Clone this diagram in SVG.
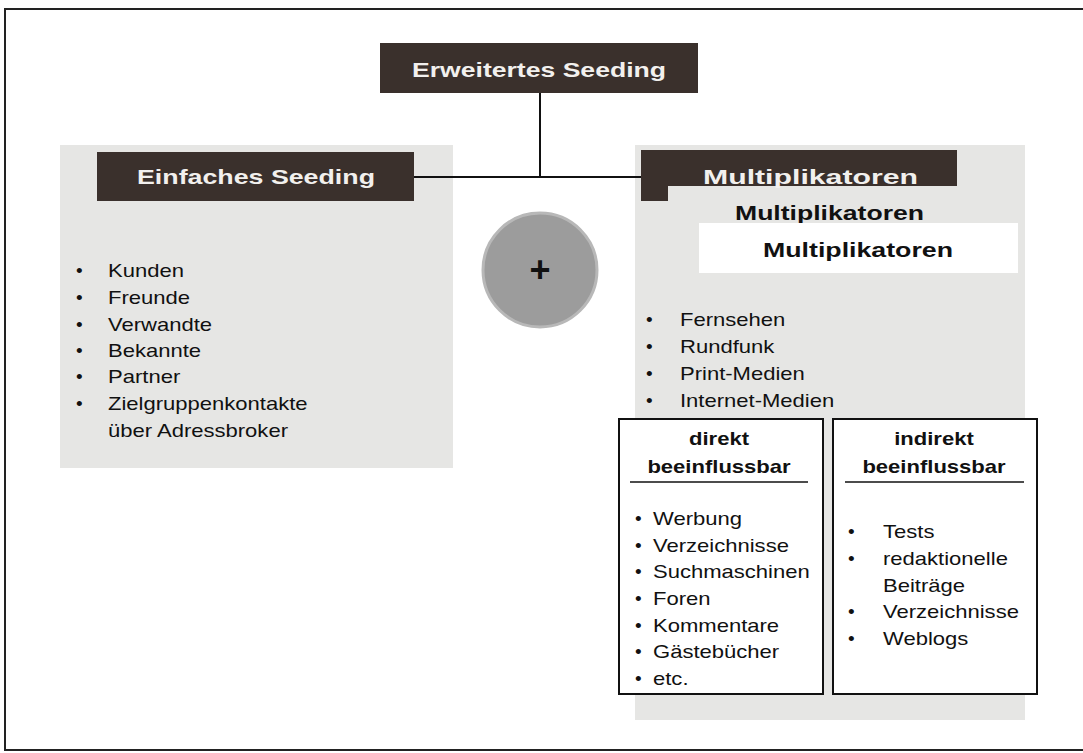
<svg xmlns="http://www.w3.org/2000/svg" width="1083" height="753" viewBox="0 0 1083 753">
<style>
.hd{font-family:"Liberation Sans",Arial,sans-serif;font-weight:bold;font-size:21px;fill:#f2f0ee}
.bk{font-family:"Liberation Sans",Arial,sans-serif;font-weight:bold;font-size:21px;fill:#111}
.tx{font-family:"Liberation Sans",Arial,sans-serif;font-size:19px;fill:#111}
.tb{font-family:"Liberation Sans",Arial,sans-serif;font-size:19px;font-weight:bold;fill:#111}
.dark{fill:#3a302c}
.panel{fill:#e6e6e4}
.box{fill:#fff;stroke:#111;stroke-width:2}
.conn{stroke:#111;stroke-width:2;fill:none}
</style>
<rect width="1083" height="753" fill="#fff"/>
<rect x="5" y="9" width="1090" height="741" fill="none" stroke="#222" stroke-width="2"/>

<g id="panels">
<rect class="panel" x="60" y="145" width="393" height="323"/>
<rect class="panel" x="635" y="145" width="390" height="575"/>
</g>

<g id="connectors">
<line class="conn" x1="540" y1="93" x2="540" y2="177"/>
<line class="conn" x1="413" y1="177" x2="642" y2="177"/>
</g>

<g id="node-erweitert">
<rect class="dark" x="380" y="43" width="318" height="50"/>
<text class="hd" x="412" y="77" textLength="254" lengthAdjust="spacingAndGlyphs">Erweitertes Seeding</text>
</g>

<g id="node-einfach">
<rect class="dark" x="97" y="152" width="317" height="49"/>
<text class="hd" x="137" y="184" textLength="238" lengthAdjust="spacingAndGlyphs">Einfaches Seeding</text>
<g transform="translate(0,0)">
<text class="tx" x="76" y="277">•</text>
<text class="tx" x="76" y="304">•</text>
<text class="tx" x="76" y="331">•</text>
<text class="tx" x="76" y="357">•</text>
<text class="tx" x="76" y="383">•</text>
<text class="tx" x="76" y="410">•</text>
</g>
<g transform="translate(108,0) scale(1.16,1)">
<text class="tx" x="0" y="277">Kunden</text>
<text class="tx" x="0" y="304">Freunde</text>
<text class="tx" x="0" y="331">Verwandte</text>
<text class="tx" x="0" y="357">Bekannte</text>
<text class="tx" x="0" y="383">Partner</text>
<text class="tx" x="0" y="410">Zielgruppenkontakte</text>
<text class="tx" x="0" y="437">über Adressbroker</text>
</g>
</g>

<g id="node-plus">
<circle cx="540" cy="270" r="57" fill="#9c9c9c" stroke="#b8b8b8" stroke-width="3"/>
<text x="540" y="282" text-anchor="middle" font-family="Liberation Sans, Arial, sans-serif" font-weight="bold" font-size="36" fill="#111">+</text>
</g>

<g id="node-multi">
<path class="dark" d="M641,150 H957 V186 H668 V201 H641 Z"/>
<text class="hd" x="703" y="184" textLength="215" lengthAdjust="spacingAndGlyphs">Multiplikatoren</text>
<text class="bk" x="735" y="220" textLength="189" lengthAdjust="spacingAndGlyphs">Multiplikatoren</text>
<rect x="699" y="223" width="319" height="50" fill="#fff"/>
<text class="bk" x="763" y="257" textLength="190" lengthAdjust="spacingAndGlyphs">Multiplikatoren</text>
<text class="tx" x="646" y="326">•</text>
<text class="tx" x="646" y="353">•</text>
<text class="tx" x="646" y="380">•</text>
<text class="tx" x="646" y="407">•</text>
<g transform="translate(680,0) scale(1.16,1)">
<text class="tx" x="0" y="326">Fernsehen</text>
<text class="tx" x="0" y="353">Rundfunk</text>
<text class="tx" x="0" y="380">Print-Medien</text>
<text class="tx" x="0" y="407">Internet-Medien</text>
</g>
</g>

<g id="node-direkt">
<rect class="box" x="619" y="419" width="204" height="275"/>
<g transform="translate(719,0) scale(1.16,1)">
<text class="tb" x="0" y="445" text-anchor="middle">direkt</text>
<text class="tb" x="0" y="473" text-anchor="middle">beeinflussbar</text>
</g>
<line x1="630" y1="482" x2="808" y2="482" stroke="#111" stroke-width="1.5"/>
<text class="tx" x="635" y="525">•</text>
<text class="tx" x="635" y="552">•</text>
<text class="tx" x="635" y="578">•</text>
<text class="tx" x="635" y="605">•</text>
<text class="tx" x="635" y="632">•</text>
<text class="tx" x="635" y="658">•</text>
<text class="tx" x="635" y="685">•</text>
<g transform="translate(653,0) scale(1.16,1)">
<text class="tx" x="0" y="525">Werbung</text>
<text class="tx" x="0" y="552">Verzeichnisse</text>
<text class="tx" x="0" y="578">Suchmaschinen</text>
<text class="tx" x="0" y="605">Foren</text>
<text class="tx" x="0" y="632">Kommentare</text>
<text class="tx" x="0" y="658">Gästebücher</text>
<text class="tx" x="0" y="685">etc.</text>
</g>
</g>

<g id="node-indirekt">
<rect class="box" x="833" y="419" width="204" height="275"/>
<g transform="translate(934,0) scale(1.16,1)">
<text class="tb" x="0" y="445" text-anchor="middle">indirekt</text>
<text class="tb" x="0" y="473" text-anchor="middle">beeinflussbar</text>
</g>
<line x1="845" y1="482" x2="1024" y2="482" stroke="#111" stroke-width="1.5"/>
<text class="tx" x="848" y="538">•</text>
<text class="tx" x="848" y="565">•</text>
<text class="tx" x="848" y="618">•</text>
<text class="tx" x="848" y="645">•</text>
<g transform="translate(883,0) scale(1.16,1)">
<text class="tx" x="0" y="538">Tests</text>
<text class="tx" x="0" y="565">redaktionelle</text>
<text class="tx" x="0" y="592">Beiträge</text>
<text class="tx" x="0" y="618">Verzeichnisse</text>
<text class="tx" x="0" y="645">Weblogs</text>
</g>
</g>
</svg>
